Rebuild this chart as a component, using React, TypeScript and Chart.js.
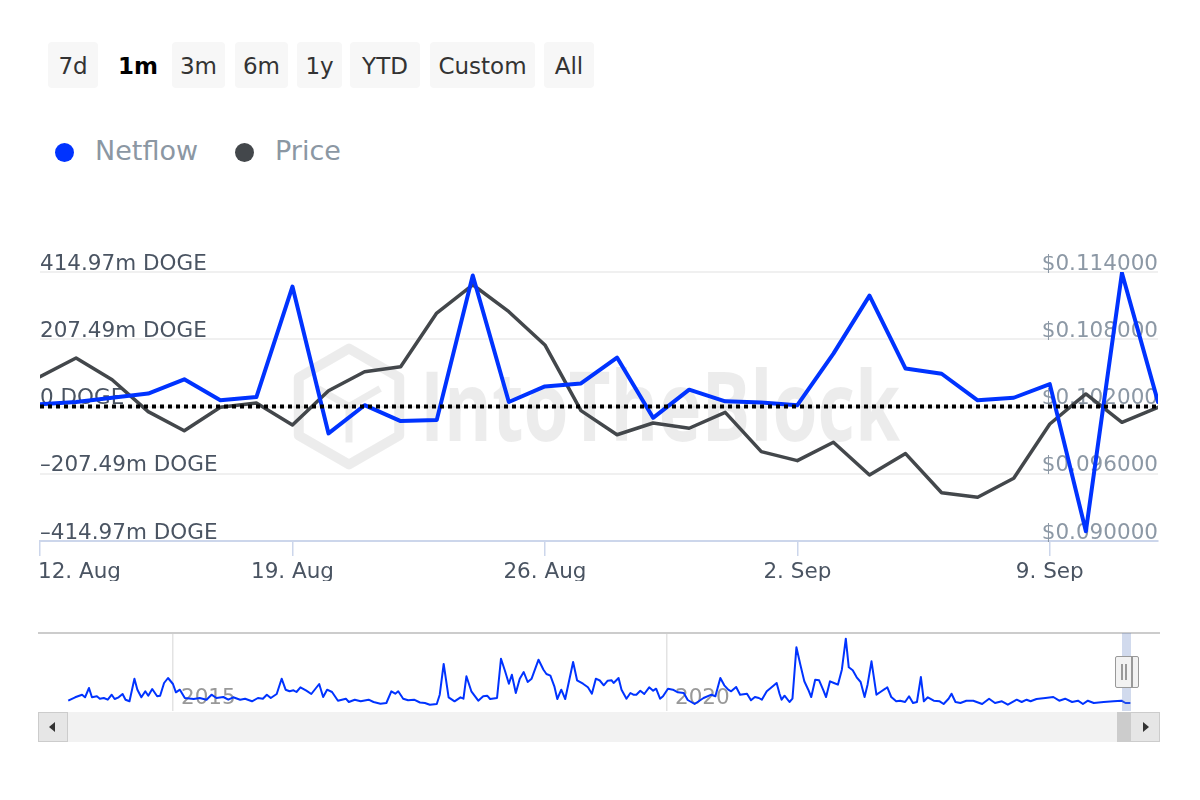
import React, { useEffect, useRef } from "react";
import { Chart, registerables } from "chart.js";

Chart.register(...registerables);

const FONT = "'DejaVu Sans', Verdana, sans-serif";

const rangeButtons = ["7d", "1m", "3m", "6m", "1y", "YTD", "Custom", "All"];
const selectedRange = "1m";

const dateLabels = [
  "12. Aug", "13. Aug", "14. Aug", "15. Aug", "16. Aug", "17. Aug", "18. Aug", "19. Aug",
  "20. Aug", "21. Aug", "22. Aug", "23. Aug", "24. Aug", "25. Aug", "26. Aug", "27. Aug",
  "28. Aug", "29. Aug", "30. Aug", "31. Aug", "1. Sep", "2. Sep", "3. Sep", "4. Sep",
  "5. Sep", "6. Sep", "7. Sep", "8. Sep", "9. Sep", "10. Sep", "11. Sep", "12. Sep",
];

// Netflow in millions of DOGE
const netflowM = [
  7, 14, 27, 40, 84, 19, 29, 370, -83, 4,
  -45, -42, 404, 14, 62, 71, 151, -35, 52, 16,
  12, 4, 163, 342, 117, 101, 19, 27, 69, -385,
  412, 14,
];

// Price in USD
const price = [
  0.10465, 0.10633, 0.10439, 0.10154, 0.09984, 0.10193, 0.10231, 0.10035, 0.10341, 0.1051,
  0.10555, 0.11034, 0.11286, 0.11046, 0.10749, 0.10163, 0.09948, 0.10053, 0.10006, 0.10148,
  0.09797, 0.09717, 0.09881, 0.09589, 0.0978, 0.0943, 0.09391, 0.0956, 0.10044, 0.10312,
  0.10059, 0.10193,
];

const dayTicks = [0, 7, 14, 21, 28];
const netflowTicks = [-414.97, -207.49, 0, 207.49, 414.97];
const priceTicks = [0.09, 0.096, 0.102, 0.108, 0.114];

// Navigator (full history overview)
const navYears = [
  2013.94, 2014.01, 2014.08, 2014.11, 2014.15, 2014.18, 2014.23, 2014.26, 2014.30, 2014.34,
  2014.38, 2014.41, 2014.45, 2014.49, 2014.52, 2014.56, 2014.61, 2014.64, 2014.68, 2014.72,
  2014.75, 2014.79, 2014.84, 2014.87, 2014.91, 2014.95, 2015.00, 2015.03, 2015.07, 2015.12,
  2015.21, 2015.27, 2015.34, 2015.39, 2015.44, 2015.51, 2015.56, 2015.61, 2015.68, 2015.73,
  2015.80, 2015.86, 2015.91, 2015.95, 2015.99, 2016.05, 2016.10, 2016.14, 2016.18, 2016.22,
  2016.25, 2016.29, 2016.35, 2016.40, 2016.48, 2016.52, 2016.56, 2016.61, 2016.67, 2016.75,
  2016.78, 2016.84, 2016.90, 2016.98, 2017.03, 2017.10, 2017.16, 2017.21, 2017.25, 2017.28,
  2017.33, 2017.38, 2017.44, 2017.50, 2017.55, 2017.60, 2017.67, 2017.70, 2017.74, 2017.79,
  2017.85, 2017.91, 2017.94, 2017.97, 2018.02, 2018.09, 2018.14, 2018.18, 2018.21, 2018.28,
  2018.32, 2018.36, 2018.40, 2018.43, 2018.47, 2018.51, 2018.55, 2018.59, 2018.63, 2018.70,
  2018.75, 2018.78, 2018.82, 2018.86, 2018.89, 2018.93, 2018.97, 2019.05, 2019.09, 2019.15,
  2019.20, 2019.24, 2019.28, 2019.32, 2019.36, 2019.40, 2019.44, 2019.46, 2019.51, 2019.54,
  2019.59, 2019.63, 2019.66, 2019.69, 2019.73, 2019.77, 2019.82, 2019.86, 2019.89, 2019.93,
  2019.96, 2020.01, 2020.06, 2020.11, 2020.17, 2020.21, 2020.28, 2020.37, 2020.45, 2020.49,
  2020.54, 2020.58, 2020.62, 2020.65, 2020.70, 2020.74, 2020.81, 2020.85, 2020.89, 2020.93,
  2020.96, 2021.01, 2021.05, 2021.11, 2021.14, 2021.16, 2021.19, 2021.24, 2021.27, 2021.31,
  2021.35, 2021.39, 2021.43, 2021.46, 2021.50, 2021.54, 2021.58, 2021.61, 2021.65, 2021.69,
  2021.73, 2021.77, 2021.81, 2021.84, 2021.88, 2021.92, 2021.96, 2022.00, 2022.03, 2022.07,
  2022.12, 2022.16, 2022.21, 2022.23, 2022.27, 2022.32, 2022.36, 2022.41, 2022.45, 2022.49,
  2022.53, 2022.57, 2022.60, 2022.64, 2022.70, 2022.76, 2022.80, 2022.85, 2022.88, 2022.92,
  2022.97, 2023.03, 2023.10, 2023.19, 2023.26, 2023.32, 2023.39, 2023.45, 2023.54, 2023.59,
  2023.64, 2023.68, 2023.74, 2023.83, 2023.91, 2023.97, 2024.03, 2024.10, 2024.16, 2024.21,
  2024.26, 2024.32, 2024.42, 2024.52, 2024.60, 2024.64, 2024.69,
];
const navValues = [
  10.3, 13.7, 16.3, 13.7, 23, 13.7, 14.7, 12.3, 13, 11.3,
  16.3, 12, 13.7, 17, 11.3, 9.7, 32.3, 21.3, 13.7, 19.7,
  15.3, 22, 14.7, 15.3, 28, 33, 27, 18.7, 21.3, 13,
  12, 13, 11.3, 16.3, 13, 14, 11.3, 13.7, 11.3, 12.3,
  9.7, 13, 12.3, 16.3, 13, 17, 32.3, 21.3, 19.7, 20.7,
  19, 23.7, 20.3, 17, 27, 14, 21.3, 19, 10.3, 12.3,
  9, 11.3, 9.7, 11.3, 9, 7.3, 8, 19.7, 17.3, 19.7,
  12.3, 10.7, 11.3, 8.5, 8, 6.3, 7, 16.3, 47, 13.7,
  9.7, 13.7, 12.3, 34.7, 19.7, 10.3, 14.7, 15.3, 12, 13,
  52.3, 40.3, 27.3, 36.3, 18, 32.3, 39, 29, 32.3, 51.3,
  41.3, 37, 35.3, 24.7, 12, 21.3, 12, 49, 30.7, 27.3,
  23.7, 17.3, 32.3, 30.5, 25.7, 30.3, 30.7, 28, 33, 21.3,
  12.3, 18, 16.3, 16.3, 20.3, 17, 23.7, 20.3, 22.3, 12.3,
  14.7, 22.3, 21.3, 18.7, 18, 11, 7, 13, 16.3, 14.7,
  33, 25.7, 21.3, 19.7, 24, 16.3, 17.3, 10.7, 14, 13,
  11.3, 19.7, 23, 28, 17, 11.3, 15.3, 9, 12.3, 63.7,
  46.3, 29.7, 21.3, 14, 31.3, 30.7, 21.3, 14, 29.7, 28,
  26.3, 41.3, 72.3, 43.7, 40.7, 33.7, 29, 14, 26.3, 49.7,
  16.3, 19, 22.3, 23.7, 14, 9.7, 10.3, 9, 14.7, 8,
  9, 34, 9.7, 13.7, 10.3, 9.7, 7, 12.3, 17.3, 9,
  8, 10.3, 10.3, 7, 12.3, 8, 9.7, 6.3, 11.3, 9,
  11.3, 9.7, 12, 13, 14, 10.3, 12.3, 9, 10.3, 7,
  10.3, 8, 9, 9.7, 10.3, 8, 8,
];
const navYearTicks = [2015, 2020];

const BLUE = "#0033ff";
const DARK = "#43474b";

function formatDoge(v: number): string {
  if (v === 0) return "0 DOGE";
  const abs = Math.abs(v).toFixed(2);
  return (v < 0 ? "\u2013" : "") + abs + "m DOGE";
}

const watermarkPlugin = {
  id: "watermark",
  beforeDatasetsDraw(chart: any) {
    const ctx = chart.ctx as CanvasRenderingContext2D;
    const ca = chart.chartArea;
    ctx.save();
    const col = "rgba(0,0,0,0.075)";
    // logo: isometric cube outline
    const cx = ca.left + 309;
    const cy = ca.top + (ca.bottom - ca.top) / 2;
    const r = 58;
    const pts: [number, number][] = [];
    for (let k = 0; k < 6; k++) {
      const a = (Math.PI / 180) * (-90 + 60 * k);
      pts.push([cx + r * Math.cos(a), cy + r * Math.sin(a)]);
    }
    ctx.strokeStyle = col;
    ctx.lineWidth = 10;
    ctx.lineJoin = "round";
    ctx.beginPath();
    pts.forEach((p, k) => (k ? ctx.lineTo(p[0], p[1]) : ctx.moveTo(p[0], p[1])));
    ctx.closePath();
    ctx.stroke();
    ctx.lineWidth = 7;
    ctx.beginPath();
    [1, 3, 5].forEach((k) => {
      ctx.moveTo(cx, cy);
      ctx.lineTo(cx + (pts[k][0] - cx) * 0.62, cy + (pts[k][1] - cy) * 0.62);
    });
    ctx.stroke();
    // text
    const txt = "IntoTheBlock";
    ctx.font = "bold 96px 'Open Sans', 'DejaVu Sans', sans-serif";
    const w = ctx.measureText(txt).width;
    const targetW = 480;
    ctx.translate(ca.left + 380, ca.top + 169);
    ctx.scale(targetW / w, 1);
    ctx.fillStyle = col;
    ctx.textBaseline = "alphabetic";
    ctx.fillText(txt, 0, 0);
    ctx.restore();
  },
};

const zeroLinePlugin = {
  id: "zeroLine",
  afterDatasetsDraw(chart: any) {
    const ctx = chart.ctx as CanvasRenderingContext2D;
    const ca = chart.chartArea;
    const y = chart.scales.y.getPixelForValue(0);
    ctx.save();
    ctx.strokeStyle = "#000000";
    ctx.lineWidth = 4;
    ctx.setLineDash([4, 4]);
    ctx.beginPath();
    ctx.moveTo(ca.left, y);
    ctx.lineTo(ca.right + 2, y);
    ctx.stroke();
    ctx.restore();
  },
};

const firstLabelPlugin = {
  id: "firstLabel",
  beforeDraw(chart: any) {
    const s: any = chart.scales.x;
    if (!s || !s.getLabelItems) return;
    const items = s.getLabelItems();
    if (items && items[0]) {
      items[0].options.textAlign = "left";
      items[0].options.translation = [chart.chartArea.left - 2, items[0].options.translation[1]];
    }
  },
};

const navDecorPlugin = {
  id: "navDecor",
  beforeDatasetsDraw(chart: any) {
    const ctx = chart.ctx as CanvasRenderingContext2D;
    const ca = chart.chartArea;
    ctx.save();
    ctx.strokeStyle = "#cccccc";
    ctx.lineWidth = 2;
    ctx.beginPath();
    ctx.moveTo(ca.left, ca.top);
    ctx.lineTo(ca.right, ca.top);
    ctx.stroke();
    ctx.restore();
  },
};

function MainChart() {
  const ref = useRef<HTMLCanvasElement | null>(null);
  useEffect(() => {
    if (!ref.current) return;
    const axisFont = { family: FONT, size: 21.5 };
    const chart = new Chart(ref.current, {
      type: "line",
      data: {
        datasets: [
          {
            label: "Netflow",
            data: netflowM.map((v, i) => ({ x: i, y: v })),
            yAxisID: "y",
            borderColor: BLUE,
            backgroundColor: BLUE,
            borderWidth: 4,
            pointRadius: 0,
            tension: 0,
            borderJoinStyle: "round",
            borderCapStyle: "round",
          },
          {
            label: "Price",
            data: price.map((v, i) => ({ x: i, y: v })),
            yAxisID: "y1",
            borderColor: DARK,
            backgroundColor: DARK,
            borderWidth: 3.5,
            pointRadius: 0,
            tension: 0,
            borderJoinStyle: "round",
            borderCapStyle: "round",
          },
        ],
      },
      options: {
        animation: false,
        responsive: false,
        devicePixelRatio: 1,
        layout: { padding: { left: 40, right: 42, top: 32, bottom: 0 } },
        plugins: { legend: { display: false }, tooltip: { enabled: false } },
        scales: {
          x: {
            type: "linear",
            min: 0,
            max: dateLabels.length - 1,
            afterBuildTicks: (s: any) => {
              s.ticks = dayTicks.map((v) => ({ value: v }));
            },
            afterFit: (s: any) => {
              s.height = 40;
              s.paddingLeft = 0;
              s.paddingRight = 0;
            },
            ticks: {
              autoSkip: false,
              maxRotation: 0,
              padding: 4,
              color: "#4a5462",
              font: axisFont,
              callback: (v: any) => dateLabels[v as number] ?? "",
            },
            grid: { drawOnChartArea: false, drawTicks: true, tickLength: 15, color: "#ccd6eb", lineWidth: 1.5 },
            border: { display: true, color: "#ccd6eb", width: 2 },
          },
          y: {
            position: "left",
            min: netflowTicks[0],
            max: netflowTicks[netflowTicks.length - 1],
            afterBuildTicks: (s: any) => {
              s.ticks = netflowTicks.map((v) => ({ value: v }));
            },
            ticks: {
              mirror: true,
              padding: 0,
              labelOffset: -8,
              color: "#4a5462",
              font: axisFont,
              callback: (v: any) => formatDoge(v as number),
            },
            grid: { color: "#f0f0f0", lineWidth: 2, drawTicks: false },
            border: { display: false },
          },
          y1: {
            position: "right",
            min: priceTicks[0],
            max: priceTicks[priceTicks.length - 1],
            afterBuildTicks: (s: any) => {
              s.ticks = priceTicks.map((v) => ({ value: v }));
            },
            ticks: {
              mirror: true,
              padding: 0,
              labelOffset: -8,
              color: "#8c98a5",
              font: axisFont,
              callback: (v: any) => "$" + (v as number).toFixed(6),
            },
            grid: { display: false, drawTicks: false },
            border: { display: false },
          },
        },
      } as any,
      plugins: [watermarkPlugin, zeroLinePlugin, firstLabelPlugin],
    });
    return () => chart.destroy();
  }, []);
  return (
    <canvas
      ref={ref}
      width={1200}
      height={341}
      style={{ position: "absolute", left: 0, top: 240, width: 1200, height: 341 }}
    />
  );
}

function NavigatorChart() {
  const ref = useRef<HTMLCanvasElement | null>(null);
  useEffect(() => {
    if (!ref.current) return;
    const chart = new Chart(ref.current, {
      type: "line",
      data: {
        datasets: [
          {
            data: navYears.map((x, i) => ({ x, y: navValues[i] })),
            borderColor: BLUE,
            borderWidth: 2,
            pointRadius: 0,
            tension: 0,
            borderJoinStyle: "round",
          },
        ],
      },
      options: {
        animation: false,
        responsive: false,
        devicePixelRatio: 1,
        layout: { padding: { left: 38, right: 40, top: 13, bottom: 0 } },
        plugins: { legend: { display: false }, tooltip: { enabled: false } },
        scales: {
          x: {
            type: "linear",
            min: 2013.634,
            max: 2024.99,
            afterBuildTicks: (s: any) => {
              s.ticks = navYearTicks.map((v) => ({ value: v }));
            },
            afterFit: (s: any) => {
              s.paddingLeft = 0;
              s.paddingRight = 0;
            },
            ticks: {
              mirror: true,
              padding: 0,
              align: "start",
              labelOffset: 8,
              color: "#999999",
              font: { family: FONT, size: 21.5 },
              callback: (v: any) => String(v),
            },
            grid: { color: "#e3e3e3", lineWidth: 1.5, drawTicks: false },
            border: { display: false },
          },
          y: { display: false, min: 0, max: 78 },
        },
      } as any,
      plugins: [navDecorPlugin],
    });
    return () => chart.destroy();
  }, []);
  return (
    <canvas
      ref={ref}
      width={1200}
      height={91}
      style={{ position: "absolute", left: 0, top: 620, width: 1200, height: 91 }}
    />
  );
}

const buttonBoxes: Record<string, [number, number]> = {
  "7d": [48, 50],
  "1m": [110, 56],
  "3m": [172, 53],
  "6m": [235, 53],
  "1y": [297, 45],
  YTD: [350, 70],
  Custom: [430, 105],
  All: [544, 50],
};

export default function App() {
  return (
    <div
      style={{
        position: "absolute",
        left: 0,
        top: 0,
        width: 1200,
        height: 800,
        background: "#ffffff",
        fontFamily: FONT,
        overflow: "hidden",
      }}
    >
      {rangeButtons.map((b) => {
        const [left, width] = buttonBoxes[b];
        const sel = b === selectedRange;
        return (
          <div
            key={b}
            style={{
              position: "absolute",
              left,
              top: 42,
              width,
              height: 46,
              lineHeight: "49px",
              textAlign: "center",
              background: sel ? "transparent" : "#f7f7f7",
              borderRadius: 4,
              fontSize: 23,
              fontWeight: sel ? "bold" : "normal",
              color: sel ? "#000000" : "#333333",
            }}
          >
            {b}
          </div>
        );
      })}

      <div style={{ position: "absolute", left: 55, top: 143, width: 19, height: 19, borderRadius: "50%", background: BLUE }} />
      <div style={{ position: "absolute", left: 95, top: 135, lineHeight: "32px", fontSize: 27, color: "#8b97a3" }}>Netflow</div>
      <div style={{ position: "absolute", left: 235, top: 143, width: 19, height: 19, borderRadius: "50%", background: DARK }} />
      <div style={{ position: "absolute", left: 275, top: 135, lineHeight: "32px", fontSize: 27, color: "#8b97a3" }}>Price</div>

      <MainChart />
      <NavigatorChart />

      {/* navigator selected range mask and handle */}
      <div style={{ position: "absolute", left: 1122, top: 633, width: 9, height: 78, background: "rgba(102,133,194,0.3)" }} />
      <div
        style={{
          position: "absolute",
          left: 1115,
          top: 656,
          width: 22,
          height: 30,
          background: "#f2f2f2",
          border: "1.5px solid #999999",
          borderRadius: 2,
        }}
      >
        <div style={{ position: "absolute", left: 5, top: 7, width: 1.5, height: 16, background: "#999" }} />
        <div style={{ position: "absolute", left: 9, top: 7, width: 1.5, height: 16, background: "#999" }} />
        <div style={{ position: "absolute", left: 15, top: 0, width: 1.5, height: 30, background: "#999" }} />
      </div>

      {/* scrollbar */}
      <div style={{ position: "absolute", left: 38, top: 712, width: 1122, height: 30, background: "#f2f2f2" }} />
      <div style={{ position: "absolute", left: 1117, top: 712, width: 13, height: 30, background: "#cccccc" }} />
      <div
        style={{
          position: "absolute",
          left: 38,
          top: 712,
          width: 28,
          height: 28,
          background: "#e6e6e6",
          border: "1px solid #cccccc",
        }}
      >
        <div
          style={{
            position: "absolute",
            left: 10,
            top: 9,
            width: 0,
            height: 0,
            borderTop: "5px solid transparent",
            borderBottom: "5px solid transparent",
            borderRight: "6px solid #333333",
          }}
        />
      </div>
      <div
        style={{
          position: "absolute",
          left: 1130,
          top: 712,
          width: 28,
          height: 28,
          background: "#e6e6e6",
          border: "1px solid #cccccc",
        }}
      >
        <div
          style={{
            position: "absolute",
            left: 12,
            top: 9,
            width: 0,
            height: 0,
            borderTop: "5px solid transparent",
            borderBottom: "5px solid transparent",
            borderLeft: "6px solid #333333",
          }}
        />
      </div>
    </div>
  );
}
